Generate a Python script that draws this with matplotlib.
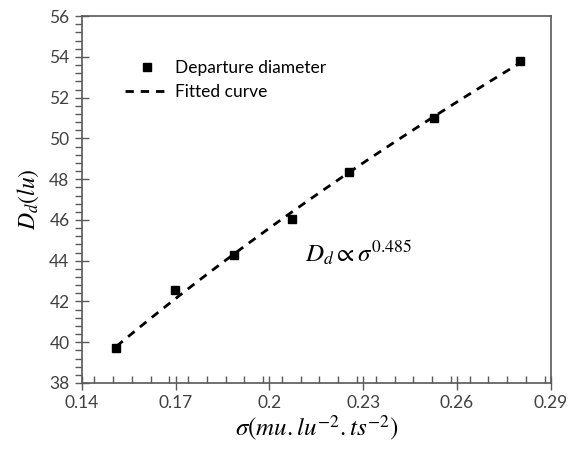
import matplotlib
matplotlib.use("Agg")
import matplotlib.pyplot as plt
import numpy as np
from matplotlib.ticker import MultipleLocator

plt.rcParams["font.family"] = ["Lato", "DejaVu Sans"]
plt.rcParams["mathtext.fontset"] = "stix"

# surface tension vs departure diameter
sigma = [0.151, 0.1697, 0.1886, 0.2072, 0.2254, 0.2526, 0.280]
diameter = [39.7, 42.55, 44.28, 46.04, 48.35, 51.0, 53.8]
exponent = 0.485

sigma_arr = np.array(sigma)
d_arr = np.array(diameter)
basis = sigma_arr ** exponent
coef = np.sum(basis * d_arr) / np.sum(basis * basis)
fit_x = np.linspace(sigma_arr.min(), sigma_arr.max(), 100)
fit_y = coef * fit_x ** exponent

fig = plt.figure(figsize=(5.69, 4.49), dpi=100)
ax = fig.add_axes([0.144, 0.147, 0.824, 0.817])

ax.plot(sigma, diameter, "s", color="black", ms=6, label="Departure diameter", zorder=3)
ax.plot(fit_x, fit_y, "--", color="black", lw=2, dashes=(3, 2.5), label="Fitted curve")

ax.set_xlim(0.14, 0.29)
ax.set_ylim(38, 56)
ax.xaxis.set_minor_locator(MultipleLocator(0.006))
ax.yaxis.set_major_locator(MultipleLocator(2))
ax.yaxis.set_minor_locator(MultipleLocator(0.4))
ax.set_xticks([0.14, 0.17, 0.2, 0.23, 0.26, 0.29])
ax.set_xticklabels(["0.14", "0.17", "0.2", "0.23", "0.26", "0.29"])

grey = "#595959"
for s in ax.spines.values():
    s.set_color(grey)
    s.set_linewidth(1.2)
ax.tick_params(which="major", direction="inout", length=10, width=1, color=grey,
               labelsize=12.5, labelcolor="#404040", pad=4)
ax.tick_params(axis="x", which="minor", direction="in", length=5, width=1, color=grey)
ax.tick_params(axis="y", which="minor", direction="out", length=5, width=1, color=grey)

ax.set_xlabel(r"$\sigma(mu.lu^{-2}.ts^{-2})$", fontsize=18, labelpad=2)
ax.set_ylabel(r"$D_d(lu)$", fontsize=17, labelpad=6)

ax.text(0.2113, 44.4, r"$D_d \propto \sigma^{0.485}$", fontsize=18, va="center", ha="left")

ax.legend(loc="upper left", bbox_to_anchor=(0.076, 0.90), frameon=False, fontsize=12.5,
          handlelength=2.6, handletextpad=0.3, labelspacing=0.5, borderaxespad=0)

fig.savefig("out.png", dpi=100)
